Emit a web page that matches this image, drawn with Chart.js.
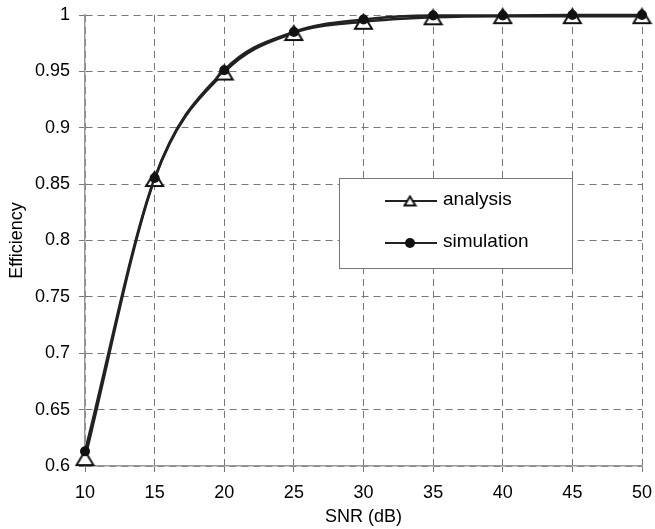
<!DOCTYPE html>
<html>
<head>
<meta charset="utf-8">
<script src="https://cdn.jsdelivr.net/npm/chart.js@4.4.1/dist/chart.umd.min.js"></script>
<style>
  html, body { margin: 0; padding: 0; background: #fff; }
  #wrap { width: 655px; height: 529px; }
</style>
</head>
<body>
<div id="wrap"><canvas id="grafica"></canvas></div>
<script>
// datos
var snr = ["10", "15", "20", "25", "30", "35", "40", "45", "50"];
var analysis = [0.607, 0.8545, 0.949, 0.984, 0.994, 0.998, 0.999, 0.999, 0.999];
var simulation = [0.613, 0.8555, 0.951, 0.985, 0.996, 0.9995, 0.9995, 1.0, 1.0];
var yTicks = [0.6, 0.65, 0.7, 0.75, 0.8, 0.85, 0.9, 0.95, 1];
var yTickLabels = ["0.6", "0.65", "0.7", "0.75", "0.8", "0.85", "0.9", "0.95", "1"];
var seriesNames = ["analysis", "simulation"];

var fuente = "'Liberation Sans', Arial, sans-serif";

// triangulo hueco centrado en su caja (como el marcador original)
function hacerTriangulo(ancho, alto, grosor) {
  var c = document.createElement("canvas");
  c.width = ancho + 2 * grosor;
  c.height = alto + 2 * grosor;
  var g = c.getContext("2d");
  g.lineWidth = grosor;
  g.strokeStyle = "#111";
  g.fillStyle = "#fff";
  g.beginPath();
  g.moveTo(c.width / 2, grosor);
  g.lineTo(c.width - grosor, c.height - grosor);
  g.lineTo(grosor, c.height - grosor);
  g.closePath();
  g.fill();
  g.stroke();
  return c;
}
var triGrande = hacerTriangulo(17, 14, 2);
var triChico = hacerTriangulo(11, 9, 2);

// leyenda dibujada dentro del area del grafico
var cajaLeyenda = {
  id: "cajaLeyenda",
  afterDraw: function (chart) {
    var ctx = chart.ctx;
    ctx.save();
    ctx.fillStyle = "#fff";
    ctx.strokeStyle = "#777";
    ctx.lineWidth = 1;
    ctx.fillRect(339, 178, 233, 90);
    ctx.strokeRect(339.5, 178.5, 233, 90);

    ctx.strokeStyle = "#222";
    ctx.lineWidth = 2;
    // analysis
    ctx.beginPath();
    ctx.moveTo(385, 201);
    ctx.lineTo(437, 201);
    ctx.stroke();
    ctx.drawImage(triChico, 410 - triChico.width / 2, 201 - triChico.height / 2);
    // simulation
    ctx.beginPath();
    ctx.moveTo(385, 243);
    ctx.lineTo(437, 243);
    ctx.stroke();
    ctx.beginPath();
    ctx.arc(410, 243, 5, 0, Math.PI * 2);
    ctx.fillStyle = "#111";
    ctx.fill();

    ctx.fillStyle = "#000";
    ctx.font = "19px " + fuente;
    ctx.textBaseline = "middle";
    ctx.fillText(seriesNames[0], 443, 200);
    ctx.fillText(seriesNames[1], 443, 242);
    ctx.restore();
  },
};

var ctx = document.getElementById("grafica").getContext("2d");
var miGrafica = new Chart(ctx, {
  type: "line",
  data: {
    labels: snr,
    datasets: [
      {
        label: seriesNames[0],
        data: analysis,
        order: 1,
        borderColor: "#222",
        borderWidth: 2.5,
        cubicInterpolationMode: "monotone",
        pointStyle: triGrande,
        pointRadius: 10,
        clip: false,
      },
      {
        label: seriesNames[1],
        data: simulation,
        order: 0,
        borderColor: "#222",
        borderWidth: 2.5,
        cubicInterpolationMode: "monotone",
        pointStyle: "circle",
        pointRadius: 5,
        pointBorderWidth: 0,
        pointBackgroundColor: "#111",
        clip: false,
      },
    ],
  },
  options: {
    responsive: true,
    maintainAspectRatio: false,
    animation: false,
    layout: {
      padding: { left: 0, right: 13, top: 15, bottom: 0 },
    },
    scales: {
      x: {
        offset: false,
        grid: {
          color: "#777",
          lineWidth: 1,
          tickLength: 6,
          tickColor: "#777",
        },
        border: { display: true, color: "#999", width: 1.5, dash: [7, 5] },
        ticks: {
          color: "#000",
          font: { family: fuente, size: 18 },
          padding: 10,
          maxRotation: 0,
        },
        title: {
          display: true,
          text: "SNR (dB)",
          color: "#000",
          font: { family: fuente, size: 18 },
          padding: { top: 0, bottom: 1 },
        },
        afterFit: function (scale) {
          scale.height = 63;
          scale.paddingLeft = 0;
          scale.paddingRight = 0;
        },
      },
      y: {
        min: 0.6,
        max: 1,
        afterBuildTicks: function (scale) {
          scale.ticks = yTicks.map(function (v) {
            return { value: v };
          });
        },
        grid: {
          color: "#777",
          lineWidth: 1,
          tickLength: 6,
          tickColor: "#777",
        },
        border: { display: true, color: "#999", width: 1.5, dash: [7, 5] },
        ticks: {
          color: "#000",
          font: { family: fuente, size: 18 },
          padding: 9,
          callback: function (value, index) {
            return yTickLabels[index];
          },
        },
        title: {
          display: true,
          text: "Efficiency",
          color: "#000",
          font: { family: fuente, size: 18 },
          padding: { top: 6, bottom: 0 },
        },
        afterFit: function (scale) {
          scale.width = 85;
          scale.paddingTop = 0;
          scale.paddingBottom = 0;
        },
      },
    },
    plugins: {
      legend: { display: false },
      tooltip: { enabled: false },
    },
  },
  plugins: [cajaLeyenda],
});
</script>
</body>
</html>
